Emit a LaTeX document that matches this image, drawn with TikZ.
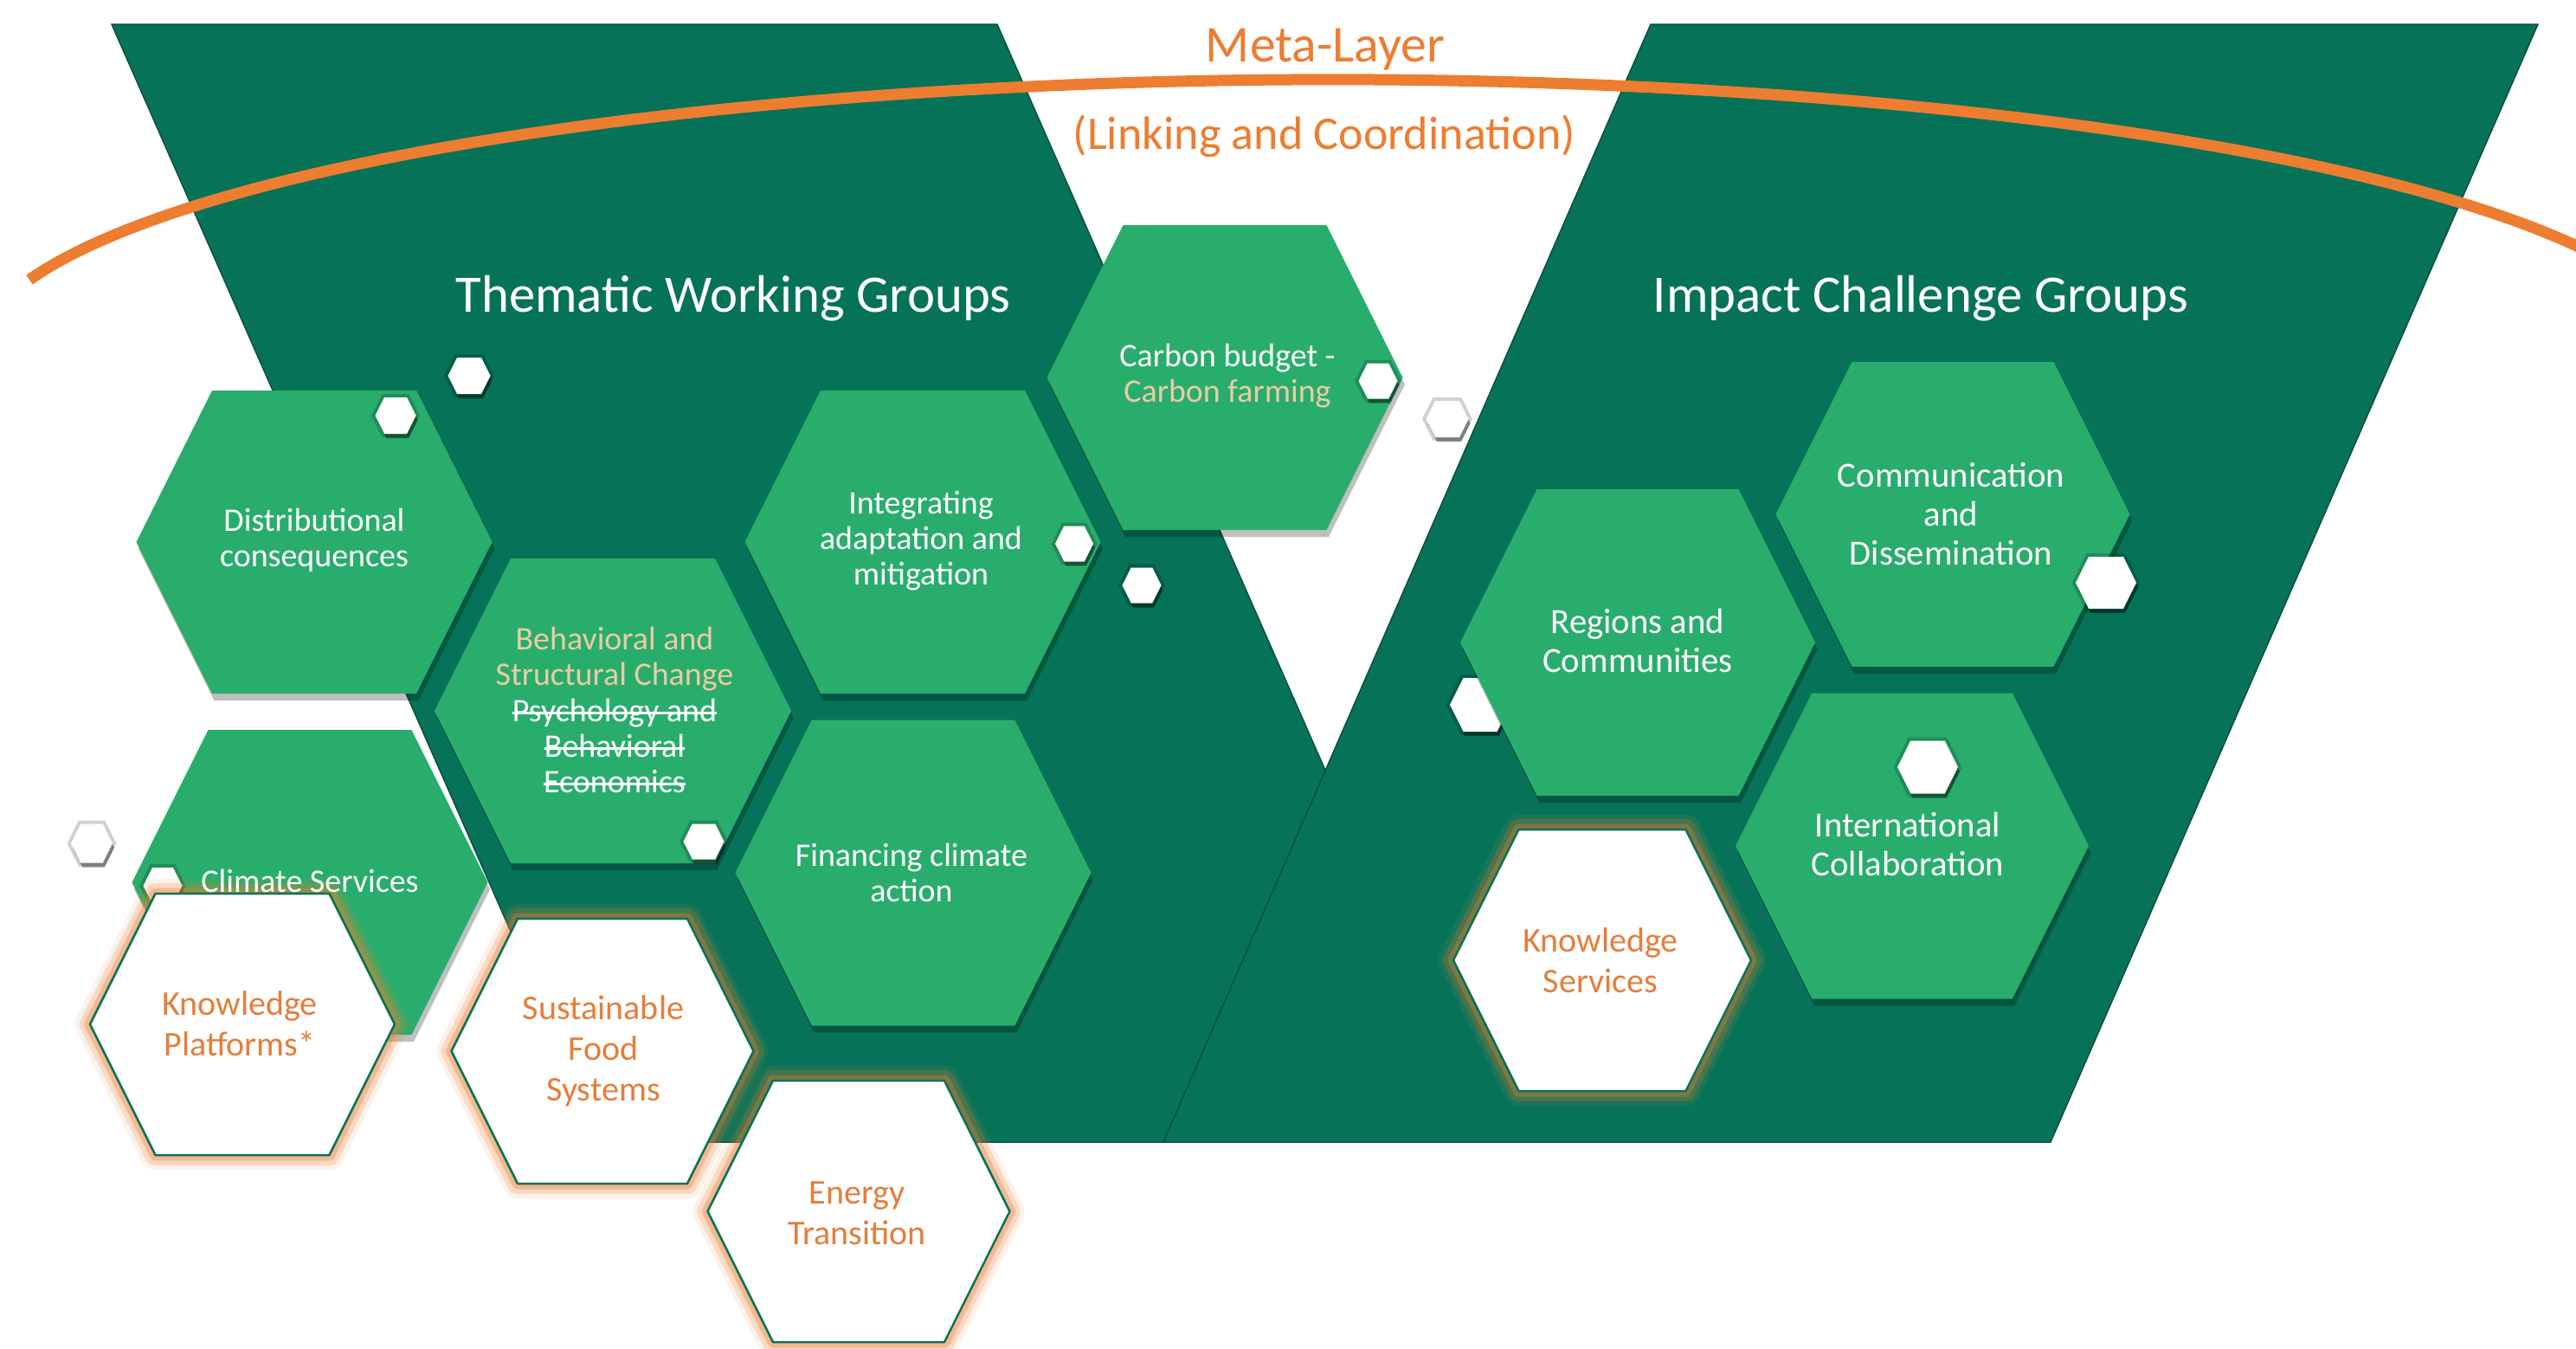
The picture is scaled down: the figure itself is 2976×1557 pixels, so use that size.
\documentclass[tikz,border=0pt]{standalone}
\usepackage{fontspec}
\setmainfont{Carlito}
\usetikzlibrary{shadows}
\definecolor{dkgreen}{RGB}{6,115,88}
\definecolor{ltgreen}{RGB}{41,173,108}
\definecolor{edgegreen}{RGB}{10,80,62}
\definecolor{mlorange}{RGB}{237,125,49}
\definecolor{tantext}{RGB}{236,203,163}
\definecolor{txtorange}{RGB}{230,125,58}
\newsavebox\strkbox
\newcommand\strk[1]{\sbox\strkbox{#1}\rlap{\usebox\strkbox}\rule[0.22em]{\wd\strkbox}{0.07em}}
\newcommand\hexa[6]{%
  \pgfmathsetmacro\hxa{#3-#5/2}%
  \pgfmathsetmacro\hxb{#3-#5/2+#6/4}%
  \pgfmathsetmacro\hxc{#3+#5/2-#6/4}%
  \pgfmathsetmacro\hxd{#3+#5/2}%
  \pgfmathsetmacro\hyt{#4-#6/2}%
  \pgfmathsetmacro\hyb{#4+#6/2}%
  \coordinate (#2) at (#3,#4);%
  \path[#1] (\hxa,#4) -- (\hxb,\hyt) -- (\hxc,\hyt) -- (\hxd,#4) -- (\hxc,\hyb) -- (\hxb,\hyb) -- cycle;%
}
\begin{document}
\begin{tikzpicture}[x=0.1mm,y=-0.1mm,
  band/.style={fill=dkgreen, draw=edgegreen, line width=0.15mm},
  greenhex/.style={fill=ltgreen, drop shadow={shadow xshift=0.25mm, shadow yshift=-0.8mm, opacity=.25, fill=black}},
  whitehex/.style={fill=white, draw=dkgreen, line width=0.25mm, line join=round,
    preaction={draw=mlorange, opacity=.1, line width=3.4mm, line join=round},
    preaction={draw=mlorange, opacity=.2, line width=2.4mm, line join=round},
    preaction={draw=mlorange, opacity=.35, line width=1.3mm, line join=round}},
  dothex/.style={fill=white, line join=round,
    preaction={draw=black, opacity=.18, line width=0.8mm},
    drop shadow={shadow xshift=0.2mm, shadow yshift=-0.5mm, opacity=.4, fill=black}},
  ltxt/.style={text=white, align=center, inner sep=0pt, font=\fontsize{10.8}{11.7}\selectfont},
  rtxt/.style={text=white, align=center, inner sep=0pt, font=\fontsize{11.6}{12.8}\selectfont},
  wtxt/.style={text=txtorange, align=center, inner sep=0pt, font=\fontsize{11.4}{13.4}\selectfont},
  ttl/.style={text=white, inner sep=0pt, anchor=base, font=\fontsize{17.3}{20}\selectfont},
  metatxt/.style={text=mlorange, inner sep=0pt, anchor=base, font=\fontsize{17}{20}\selectfont},
  linktxt/.style={text=mlorange, inner sep=0pt, anchor=base, font=\fontsize{15.4}{18}\selectfont}
]
\useasboundingbox[fill=white] (0,0) rectangle (2976,1557);

% bands
\path[band] (129,28) -- (1152,28) -- (1720,1319) -- (697,1319) -- cycle;
\path[band] (1907,28) -- (2932,28) -- (2369,1319) -- (1344,1319) -- cycle;

% meta-layer arc (part of an ellipse centred at (1540,414))
\coordinate (arcstart) at (34,323);
\draw[mlorange, line width=1.3mm] (arcstart) arc[start angle=-163.6, end angle=-21, x radius=1570, y radius=322];

% titles
\node[metatxt] (meta) at (1531,71) {Meta-Layer};
\node[linktxt] (link) at (1530,172) {(Linking and Coordination)};
\node[ttl] (twg) at (847,360) {Thematic Working Groups};
\node[ttl] (icg) at (2219,360) {Impact Challenge Groups};

% small hex behind Regions
\hexa{dothex}{dh}{1710}{814}{70}{62}

% green hexagons
\hexa{greenhex}{hdist}{363}{626}{411}{350}
\hexa{greenhex}{hbeh}{708}{821}{412}{352}
\hexa{greenhex}{hint}{1066}{626}{411}{350}
\hexa{greenhex}{hcarb}{1415}{436}{411}{352}
\hexa{greenhex}{hfin}{1055}{1008}{411}{353}
\hexa{greenhex}{hclim}{358}{1019}{411}{352}
\hexa{greenhex}{hreg}{1892}{742}{410}{354}
\hexa{greenhex}{hcom}{2256}{594}{409}{352}
\hexa{greenhex}{hintl}{2209}{977}{408}{353}

% small hex on Climate Services (partly hidden)
\hexa{dothex}{dl}{188}{1023}{45}{42}

% white hexagons
\hexa{whitehex}{hkp}{280}{1183}{352}{302}
\hexa{whitehex}{hsfs}{696}{1214}{349}{306}
\hexa{whitehex}{hen}{992}{1399}{349}{302}
\hexa{whitehex}{hks}{1851}{1109}{344}{302}

% small white hexagons
\hexa{dothex}{da}{542}{434}{49}{42}
\hexa{dothex}{db}{457}{480}{47}{42}
\hexa{dothex}{dc}{1241}{628}{44}{41}
\hexa{dothex}{dd}{1319}{676}{45}{41}
\hexa{dothex}{de}{1592}{440}{45}{41}
\hexa{dothex}{df}{1672}{484}{49}{42}
\hexa{dothex}{dg}{2433}{673}{70}{60}
\hexa{dothex}{di}{2227}{886}{70}{61}
\hexa{dothex}{dj}{813}{972}{47}{41}
\hexa{dothex}{dk}{106}{974}{48}{45}

% texts
\node[ltxt] (tdist) at (363,624) {Distributional\\consequences};
\node[ltxt] (tbeh) at (710,820) {\textcolor{tantext}{Behavioral and}\\\textcolor{tantext}{Structural Change}\\\strk{Psychology and}\\\strk{Behavioral}\\\strk{Economics}};
\node[ltxt] (tint) at (1064,625) {Integrating\\adaptation and\\mitigation};
\node[ltxt] (tcarb) at (1418,434) {Carbon budget -\\\textcolor{tantext}{Carbon farming}};
\node[ltxt] (tfin) at (1053,1008) {Financing climate\\action};
\node[ltxt] (tclim) at (358,1017) {Climate Services};
\node[wtxt] (tkp) at (277,1182) {Knowledge\\Platforms*};
\node[wtxt] (tsfs) at (697,1214) {Sustainable\\Food\\Systems};
\node[wtxt] (ten) at (990,1401) {Energy\\Transition};
\node[rtxt] (treg) at (1892,740) {Regions and\\Communities};
\node[rtxt] (tcom) at (2254,594) {Communication\\and\\Dissemination};
\node[rtxt] (tintl) at (2204,975) {International\\Collaboration};
\node[wtxt] (tks) at (1849,1109) {Knowledge\\Services};
\end{tikzpicture}
\end{document}
